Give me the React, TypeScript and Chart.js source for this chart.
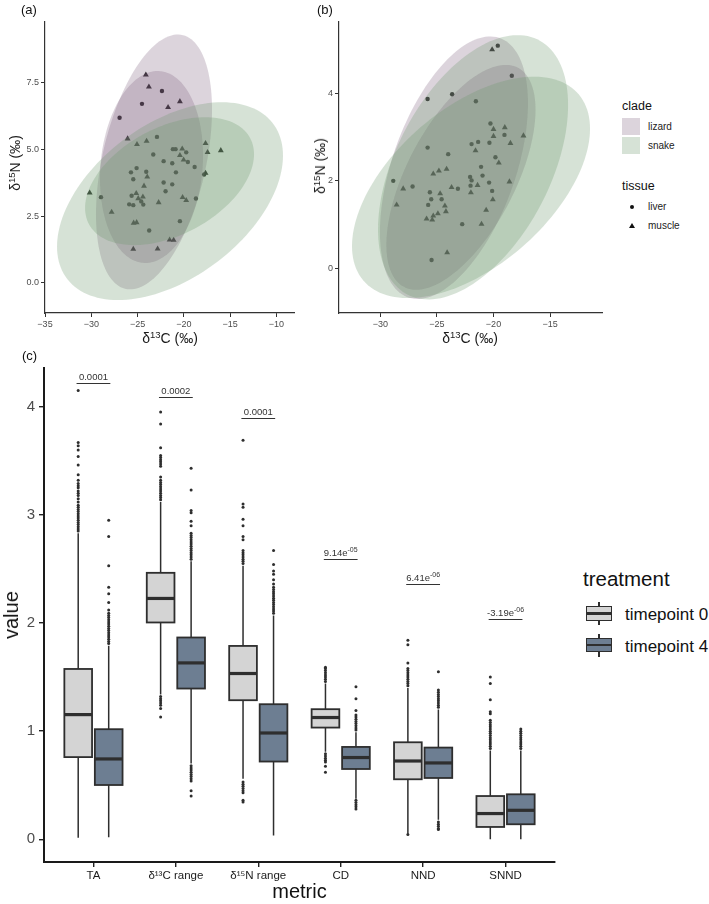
import React, { useEffect, useRef } from 'react';
import { Chart, registerables } from 'chart.js';

Chart.register(...registerables);

const FONT = '"Liberation Sans", Arial, Helvetica, sans-serif';

// ---------------- panel (a) ----------------
const aLiver: number[][] = [[-26.94,6.19],[-24.52,6.71],[-22.36,7.19],[-22.9,5.47],[-23.3,4.81],[-21.18,5.01],[-20.89,5.01],[-19.74,4.89],[-19.56,4.53],[-18.83,4.34],[-22.18,4.56],[-21.25,4.48],[-20.85,4.14],[-25.1,4.3],[-25.71,4.14],[-24.06,4.16],[-25.46,3.88],[-22.18,3.76],[-21.25,3.69],[-21.97,3.43],[-28.95,3.21],[-25.64,3.26],[-25.9,2.94],[-25.46,2.91],[-24.6,3.05],[-24.38,2.93],[-18.69,3.16],[-17.8,4.06],[-20.42,2.31],[-23.74,1.96]];
const aMuscle: number[][] = [[-24.1,7.8],[-23.77,7.35],[-20.42,6.8],[-21.7,6.58],[-26.07,5.4],[-25.06,5.19],[-24.02,5.31],[-17.65,5.23],[-17.43,4.89],[-16.0,4.96],[-20.17,5.02],[-20.42,4.78],[-20.02,4.61],[-17.65,4.11],[-23.95,3.97],[-24.3,3.63],[-30.17,3.37],[-25.14,3.35],[-24.42,3.22],[-24.92,3.16],[-22.72,3.01],[-20.13,3.2],[-19.74,3.09],[-27.8,2.65],[-25.42,2.24],[-25.1,2.26],[-21.53,1.61],[-21.1,1.6],[-25.46,1.26],[-22.83,1.27]];
const aEllClade = ['lizard', 'lizard', 'snake', 'snake'];
const aEllCx = [-23.22, -23.49, -21.49, -21.54];
const aEllCy = [4.53, 4.34, 3.06, 3.81];
const aEllSx = [6.27, 5.57, 12.21, 9.13];
const aEllSy = [4.78, 3.6, 3.71, 2.4];
const aEllRho = [0.41, 0.12, 0.46, 0.42];
const aXTicks = [-35, -30, -25, -20, -15, -10];
const aYTicks = [0, 2.5, 5, 7.5];

// ---------------- panel (b) ----------------
const bLiver: number[][] = [[-19.62,5.09],[-18.38,4.40],[-25.83,3.87],[-23.66,3.98],[-21.56,3.82],[-20.27,3.31],[-19.03,3.05],[-21.94,2.84],[-21.36,2.89],[-20.36,2.87],[-25.83,2.76],[-24.01,2.61],[-19.83,2.54],[-21.1,2.32],[-20.97,2.12],[-22.07,2.09],[-21.94,2.01],[-28.87,2.0],[-22.03,1.89],[-20.39,1.96],[-27.16,1.87],[-23.15,1.82],[-20.12,1.77],[-25.63,1.74],[-25.51,1.58],[-24.59,1.58],[-25.78,1.45],[-22.77,1.01],[-25.48,0.19]];
const bMuscle: number[][] = [[-20.12,5.0],[-20.0,3.18],[-19.0,3.22],[-20.0,3.02],[-17.35,3.03],[-18.5,2.86],[-21.59,2.69],[-19.53,2.41],[-25.33,2.16],[-24.83,2.23],[-24.15,2.27],[-18.59,1.98],[-23.71,1.85],[-21.41,1.9],[-22.0,1.73],[-27.99,1.82],[-24.72,1.71],[-20.06,1.57],[-28.57,1.45],[-24.3,1.43],[-24.21,1.3],[-20.65,1.33],[-25.33,1.2],[-24.92,1.25],[-25.92,1.13],[-25.42,1.11],[-21.06,1.01],[-24.1,0.36]];
const bEllClade = ['lizard', 'lizard', 'snake', 'snake'];
const bEllCx = [-23.5, -22.88, -21.81, -21.99];
const bEllCy = [2.3, 2.08, 2.31, 1.85];
const bEllSx = [6.55, 6.6, 8.41, 10.53];
const bEllSy = [3.0, 2.57, 3.02, 2.53];
const bEllRho = [0.49, 0.6, 0.47, 0.53];
const bXTicks = [-30, -25, -20, -15];
const bYTicks = [0, 2, 4];

// ---------------- panel (c) ----------------
const metrics = ['TA', 'δ¹³C range', 'δ¹⁵N range', 'CD', 'NND', 'SNND'];
const t0Q1 = [0.76, 2.005, 1.286, 1.033, 0.555, 0.114];
const t0Med = [1.153, 2.227, 1.533, 1.126, 0.724, 0.238];
const t0Q3 = [1.575, 2.464, 1.788, 1.203, 0.897, 0.40];
const t0Lo = [0.015, 1.34, 0.56, 0.81, 0.052, 0.0];
const t0Hi = [2.83, 3.12, 2.53, 1.44, 1.40, 0.82];
const t4Q1 = [0.502, 1.394, 0.719, 0.65, 0.567, 0.139];
const t4Med = [0.743, 1.631, 0.983, 0.756, 0.706, 0.268];
const t4Q3 = [1.018, 1.866, 1.249, 0.854, 0.848, 0.416];
const t4Lo = [0.02, 0.70, 0.034, 0.376, 0.18, 0.0];
const t4Hi = [1.79, 2.57, 2.07, 0.99, 1.2, 0.82];
const t0Outliers: number[][] = [
  [2.85,2.87,2.89,2.91,2.93,2.95,2.97,2.99,3.01,3.03,3.05,3.07,3.09,3.12,3.15,3.18,3.2,3.22,3.25,3.27,3.29,3.32,3.37,3.46,3.54,3.6,3.64,3.67,4.15],
  [1.13,1.21,1.24,1.26,1.28,1.3,1.32,3.14,3.16,3.18,3.2,3.22,3.24,3.26,3.28,3.3,3.32,3.35,3.45,3.47,3.49,3.51,3.53,3.55,3.62,3.84,3.95],
  [0.345,0.36,0.43,0.45,0.47,0.49,0.51,0.53,2.55,2.57,2.59,2.61,2.63,2.65,2.67,2.77,2.8,2.9,2.96,3.07,3.1,3.69],
  [0.62,0.675,0.715,0.73,0.75,0.77,0.79,1.46,1.48,1.5,1.52,1.54,1.56,1.58,1.59],
  [0.045,1.42,1.44,1.46,1.48,1.5,1.52,1.54,1.56,1.58,1.63,1.8,1.84],
  [0.84,0.86,0.88,0.9,0.92,0.94,0.96,0.98,1.0,1.02,1.04,1.06,1.08,1.1,1.16,1.18,1.29,1.44,1.5],
];
const t4Outliers: number[][] = [
  [1.81,1.83,1.85,1.87,1.89,1.91,1.93,1.95,1.97,1.99,2.01,2.03,2.05,2.07,2.09,2.12,2.19,2.27,2.33,2.53,2.8,2.95],
  [0.4,0.45,0.54,0.56,0.58,0.6,0.62,0.64,0.66,0.68,2.59,2.61,2.63,2.65,2.67,2.69,2.71,2.73,2.75,2.77,2.79,2.81,2.83,2.9,2.94,3.02,3.04,3.23,3.43],
  [2.09,2.11,2.13,2.15,2.17,2.19,2.21,2.23,2.25,2.27,2.29,2.31,2.33,2.36,2.4,2.45,2.48,2.54,2.67],
  [0.28,0.3,0.32,0.34,0.36,1.01,1.03,1.05,1.07,1.09,1.11,1.13,1.15,1.19,1.3,1.41],
  [0.09,0.1,0.12,0.14,0.16,1.22,1.24,1.26,1.28,1.3,1.32,1.34,1.36,1.38,1.55],
  [0.84,0.86,0.88,0.9,0.92,0.94,0.96,0.98,1.0,1.02],
];
const pBase = ['0.0001', '0.0002', '0.0001', '9.14e', '6.41e', '-3.19e'];
const pSup = ['', '', '', '-05', '-06', '-06'];
const pY = [4.22, 4.09, 3.9, 2.59, 2.365, 2.04];
const cYTicks = [0, 1, 2, 3, 4];
const cXTicks = [1, 2, 3, 4, 5, 6];

const CLADE_FILL: Record<string, string> = {
  lizard: 'rgba(120,88,120,0.26)',
  snake: 'rgba(108,150,108,0.28)',
};
const T0_FILL = '#d4d4d4';
const T4_FILL = '#6d7e92';
const INK = '#2e2e2e';
const DODGE = 0.185;
const HALF_BOX = 0.168;

function ellipsePlugin(clade: string[], cx: number[], cy: number[], sx: number[], sy: number[], rho: number[]) {
  return {
    id: 'ellipses',
    afterDatasetsDraw(chart: any) {
      const { ctx, chartArea, scales } = chart;
      ctx.save();
      ctx.beginPath();
      ctx.rect(chartArea.left, chartArea.top, chartArea.right - chartArea.left, chartArea.bottom - chartArea.top);
      ctx.clip();
      for (let k = 0; k < cx.length; k++) {
        const s = Math.sqrt(1 - rho[k] * rho[k]);
        ctx.beginPath();
        for (let j = 0; j <= 144; j++) {
          const t = (j / 144) * Math.PI * 2;
          const vx = cx[k] + sx[k] * Math.cos(t);
          const vy = cy[k] + sy[k] * (rho[k] * Math.cos(t) + s * Math.sin(t));
          const px = scales.x.getPixelForValue(vx);
          const py = scales.y.getPixelForValue(vy);
          if (j === 0) ctx.moveTo(px, py); else ctx.lineTo(px, py);
        }
        ctx.closePath();
        ctx.fillStyle = CLADE_FILL[clade[k]];
        ctx.fill();
      }
      ctx.restore();
    },
  };
}

function linAxis(ticksArr: number[], fmt: (v: number) => string, size: number, fit: (s: any) => void, min: number, max: number) {
  return {
    type: 'linear',
    min,
    max,
    afterBuildTicks: (s: any) => { s.ticks = ticksArr.map((v) => ({ value: v })); },
    afterFit: fit,
    grid: { drawOnChartArea: false, drawTicks: true, tickLength: 4, color: '#333', lineWidth: 1 },
    border: { display: true, color: '#333', width: 1.2 },
    ticks: { font: { family: FONT, size }, color: '#4d4d4d', padding: 2, callback: (v: any) => fmt(Number(v)) },
  };
}

const minus = (v: number) => String(v).replace('-', '\u2212');

function scatterConfig(liver: number[][], muscle: number[][], plugin: any, xr: number[], yr: number[], xt: number[], yt: number[], yFmt: (v: number) => string, yW: number, padRight: number) {
  return {
    type: 'scatter',
    data: {
      datasets: [
        { data: liver.map(([x, y]) => ({ x, y })), pointStyle: 'circle', pointRadius: 2.2, backgroundColor: '#1e1e1e', borderWidth: 0 },
        { data: muscle.map(([x, y]) => ({ x, y })), pointStyle: 'triangle', pointRadius: 3.4, backgroundColor: '#1e1e1e', borderWidth: 0 },
      ],
    },
    options: {
      animation: false,
      responsive: false,
      maintainAspectRatio: false,
      layout: { padding: { top: 22, right: padRight, left: 0, bottom: 0 } },
      plugins: { legend: { display: false }, tooltip: { enabled: false } },
      scales: {
        x: linAxis(xt, minus, 9, (s: any) => { s.height = 32; }, xr[0], xr[1]),
        y: linAxis(yt, yFmt, 9, (s: any) => { s.width = yW; }, yr[0], yr[1]),
      },
    },
    plugins: [plugin],
  };
}

const boxPlugin = {
  id: 'boxes',
  beforeDatasetsDraw(chart: any) {
    const { ctx, scales: { x, y } } = chart;
    ctx.save();
    const groups = [
      { off: -DODGE, q1: t0Q1, med: t0Med, q3: t0Q3, lo: t0Lo, hi: t0Hi, fill: T0_FILL },
      { off: DODGE, q1: t4Q1, med: t4Med, q3: t4Q3, lo: t4Lo, hi: t4Hi, fill: T4_FILL },
    ];
    for (let i = 0; i < metrics.length; i++) {
      for (const g of groups) {
        const c = i + 1 + g.off;
        const xc = x.getPixelForValue(c);
        const xl = x.getPixelForValue(c - HALF_BOX);
        const xr = x.getPixelForValue(c + HALF_BOX);
        const yq1 = y.getPixelForValue(g.q1[i]);
        const yq3 = y.getPixelForValue(g.q3[i]);
        const ym = y.getPixelForValue(g.med[i]);
        const ylo = y.getPixelForValue(g.lo[i]);
        const yhi = y.getPixelForValue(g.hi[i]);
        ctx.strokeStyle = INK;
        ctx.lineWidth = 1.5;
        ctx.beginPath();
        ctx.moveTo(xc, yhi); ctx.lineTo(xc, yq3);
        ctx.moveTo(xc, yq1); ctx.lineTo(xc, ylo);
        ctx.stroke();
        ctx.fillStyle = g.fill;
        ctx.fillRect(xl, yq3, xr - xl, yq1 - yq3);
        ctx.lineWidth = 1.8;
        ctx.strokeRect(xl, yq3, xr - xl, yq1 - yq3);
        ctx.lineWidth = 3.2;
        ctx.beginPath();
        ctx.moveTo(xl, ym); ctx.lineTo(xr, ym);
        ctx.stroke();
      }
    }
    ctx.restore();
  },
  afterDatasetsDraw(chart: any) {
    const { ctx, scales: { x, y } } = chart;
    ctx.save();
    ctx.strokeStyle = '#333';
    ctx.fillStyle = '#333';
    ctx.lineWidth = 1;
    for (let i = 0; i < pBase.length; i++) {
      const xl = x.getPixelForValue(i + 1 - 0.205);
      const xr = x.getPixelForValue(i + 1 + 0.205);
      const xc = x.getPixelForValue(i + 1);
      const yy = Math.round(y.getPixelForValue(pY[i])) + 0.5;
      ctx.beginPath(); ctx.moveTo(xl, yy); ctx.lineTo(xr, yy); ctx.stroke();
      ctx.font = `9.5px ${FONT}`;
      const wb = ctx.measureText(pBase[i]).width;
      ctx.font = `7px ${FONT}`;
      const ws = pSup[i] ? ctx.measureText(pSup[i]).width : 0;
      const x0 = xc - (wb + ws) / 2;
      ctx.textBaseline = 'alphabetic';
      ctx.textAlign = 'left';
      ctx.font = `9.5px ${FONT}`;
      ctx.fillText(pBase[i], x0, yy - 4);
      if (pSup[i]) {
        ctx.font = `7px ${FONT}`;
        ctx.fillText(pSup[i], x0 + wb, yy - 8);
      }
    }
    ctx.restore();
  },
};

function boxConfig() {
  const mk = (outs: number[][], off: number) => {
    const pts: { x: number; y: number }[] = [];
    outs.forEach((arr, i) => arr.forEach((v) => pts.push({ x: i + 1 + off, y: v })));
    return pts;
  };
  return {
    type: 'scatter',
    data: {
      datasets: [
        { data: mk(t0Outliers, -DODGE), pointRadius: 1.5, backgroundColor: INK, borderWidth: 0 },
        { data: mk(t4Outliers, DODGE), pointRadius: 1.5, backgroundColor: INK, borderWidth: 0 },
      ],
    },
    options: {
      animation: false,
      responsive: false,
      maintainAspectRatio: false,
      layout: { padding: { top: 28, right: 15, left: 0, bottom: 0 } },
      plugins: { legend: { display: false }, tooltip: { enabled: false } },
      scales: {
        x: {
          type: 'linear', min: 0.4, max: 6.6,
          afterBuildTicks: (s: any) => { s.ticks = cXTicks.map((v) => ({ value: v })); },
          afterFit: (s: any) => { s.height = 42; },
          grid: { drawOnChartArea: false, drawTicks: true, tickLength: 5, color: '#222', lineWidth: 1.4 },
          border: { display: true, color: '#1a1a1a', width: 2 },
          ticks: { font: { family: FONT, size: 11.5 }, color: '#1a1a1a', padding: 2, maxRotation: 0, autoSkip: false, callback: (v: any) => metrics[Number(v) - 1] },
        },
        y: {
          type: 'linear', min: -0.21, max: 4.358,
          afterBuildTicks: (s: any) => { s.ticks = cYTicks.map((v) => ({ value: v })); },
          afterFit: (s: any) => { s.width = 44; },
          grid: { drawOnChartArea: false, drawTicks: true, tickLength: 5, color: '#222', lineWidth: 1.4 },
          border: { display: true, color: '#1a1a1a', width: 2 },
          ticks: { font: { family: FONT, size: 15 }, color: '#4d4d4d', padding: 4, callback: (v: any) => String(v) },
        },
      },
    },
    plugins: [boxPlugin],
  };
}

function ChartCanvas({ make, left, top, width, height }: { make: () => any; left: number; top: number; width: number; height: number }) {
  const ref = useRef<HTMLCanvasElement | null>(null);
  useEffect(() => {
    if (!ref.current) return;
    const chart = new Chart(ref.current, make());
    return () => chart.destroy();
  }, []);
  return (
    <canvas ref={ref} width={width} height={height}
      style={{ position: 'absolute', left, top, width, height, display: 'block' }} />
  );
}

const Sup = ({ children }: { children: React.ReactNode }) => (
  <span style={{ fontSize: '0.68em', position: 'relative', top: '-0.5em' }}>{children}</span>
);

function T({ x, y, size, children, color = '#111', anchor = 'left', rotate = false }: any) {
  const tx = anchor === 'center' ? '-50%' : '0';
  return (
    <div style={{
      position: 'absolute', left: x, top: y, fontFamily: FONT, fontSize: size, color,
      lineHeight: 1, whiteSpace: 'nowrap',
      transform: rotate ? 'translate(-50%,-50%) rotate(-90deg)' : `translate(${tx},-50%)`,
    }}>{children}</div>
  );
}

function LegendBox({ top, fill }: { top: number; fill: string }) {
  return (
    <>
      <div style={{ position: 'absolute', left: 598.2, top, width: 1.6, height: 23.5, background: INK }} />
      <div style={{ position: 'absolute', left: 586, top: top + 4.3, width: 26, height: 14.7, background: fill, border: `1.6px solid ${INK}`, boxSizing: 'border-box' }} />
      <div style={{ position: 'absolute', left: 586, top: top + 10.5, width: 26, height: 2.4, background: INK }} />
    </>
  );
}

export default function App() {
  return (
    <div style={{ position: 'absolute', left: 0, top: 0, width: 709, height: 904, background: '#fff', overflow: 'hidden' }}>
      <ChartCanvas left={0} top={0} width={300} height={345}
        make={() => scatterConfig(aLiver, aMuscle, ellipsePlugin(aEllClade, aEllCx, aEllCy, aEllSx, aEllSy, aEllRho),
          [-35, -8.09], [-1.136, 9.78], aXTicks, aYTicks, (v) => v.toFixed(1), 45, 6)} />
      <ChartCanvas left={300} top={0} width={312} height={345}
        make={() => scatterConfig(bLiver, bMuscle, ellipsePlugin(bEllClade, bEllCx, bEllCy, bEllSx, bEllSy, bEllRho),
          [-33.67, -10.4], [-1.02, 5.63], bXTicks, bYTicks, (v) => String(v), 39, 10)} />
      <ChartCanvas left={0} top={340} width={570} height={564} make={boxConfig} />

      {/* panel tags */}
      <T x={21} y={8.5} size={13}>(a)</T>
      <T x={317} y={9} size={13}>(b)</T>
      <T x={22} y={355} size={13}>(c)</T>

      {/* axis titles a/b */}
      <T x={15} y={163} size={14} rotate color="#1a1a1a">δ<Sup>15</Sup>N (‰)</T>
      <T x={170} y={338} size={14} anchor="center" color="#1a1a1a">δ<Sup>13</Sup>C (‰)</T>
      <T x={320} y={166} size={14} rotate color="#1a1a1a">δ<Sup>15</Sup>N (‰)</T>
      <T x={470} y={338} size={14} anchor="center" color="#1a1a1a">δ<Sup>13</Sup>C (‰)</T>

      {/* clade / tissue legend */}
      <T x={622} y={106} size={12.5}>clade</T>
      <div style={{ position: 'absolute', left: 622, top: 117.5, width: 18, height: 17.5, background: CLADE_FILL.lizard }} />
      <div style={{ position: 'absolute', left: 622, top: 136.8, width: 18, height: 17.5, background: CLADE_FILL.snake }} />
      <T x={648} y={126.5} size={10} color="#222">lizard</T>
      <T x={648} y={145.5} size={10} color="#222">snake</T>
      <T x={622} y={186} size={12.5}>tissue</T>
      <div style={{ position: 'absolute', left: 629.7, top: 205, width: 4.4, height: 4.4, borderRadius: '50%', background: '#111' }} />
      <div style={{ position: 'absolute', left: 628.5, top: 223, width: 0, height: 0, borderLeft: '3.3px solid transparent', borderRight: '3.3px solid transparent', borderBottom: '5.6px solid #111' }} />
      <T x={648} y={207} size={10} color="#222">liver</T>
      <T x={648} y={226} size={10} color="#222">muscle</T>

      {/* panel c titles */}
      <T x={11} y={615} size={20} rotate color="#111">value</T>
      <T x={299.5} y={891} size={20} anchor="center" color="#111">metric</T>

      {/* treatment legend */}
      <T x={583} y={579} size={20.5} color="#111">treatment</T>
      <LegendBox top={601.7} fill={T0_FILL} />
      <LegendBox top={633.5} fill={T4_FILL} />
      <T x={625} y={613.5} size={17} color="#111">timepoint 0</T>
      <T x={625} y={645.5} size={17} color="#111">timepoint 4</T>
    </div>
  );
}
